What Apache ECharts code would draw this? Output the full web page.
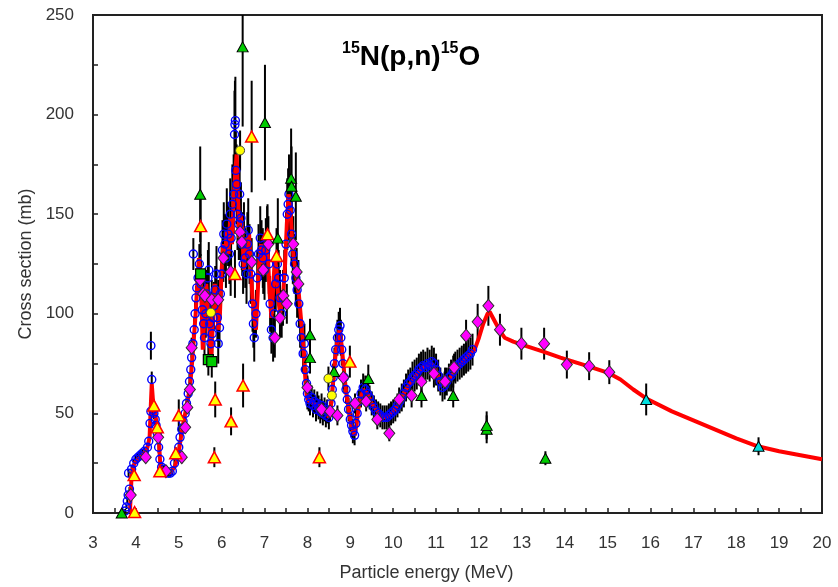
<!DOCTYPE html>
<html><head><meta charset="utf-8">
<script src="https://cdn.jsdelivr.net/npm/echarts@6/dist/echarts.min.js"></script>
<style>html,body{margin:0;padding:0;background:#fff}#c{width:838px;height:587px}</style>
</head><body><div id="c"></div>
<script>
// ---- axis settings ----
const xRange = [3, 20];
const yRange = [0, 250];
const xAxisTitle = 'Particle energy (MeV)';
const yAxisTitle = 'Cross section (mb)';

// ---- evaluation curve (red line) [E, sigma] ----
const evalCurve = [
[3.86,0],[3.88,9],[3.9,19],[3.95,24],[4.0,26],[4.1,28],[4.2,30],[4.27,33],[4.32,38],[4.35,55],[4.37,65],[4.4,56],[4.45,50],[4.5,42],[4.54,35],[4.57,24],[4.6,22],[4.7,21],[4.8,20],[4.9,23],[4.98,28],[5.03,35],[5.08,42],[5.15,50],[5.22,58],[5.27,65],[5.32,78],[5.36,90],[5.4,102],[5.44,118],[5.47,128],[5.5,120],[5.53,105],[5.56,82],[5.6,100],[5.64,115],[5.68,105],[5.72,88],[5.76,78],[5.8,100],[5.84,115],[5.88,108],[5.92,92],[5.96,100],[6.0,122],[6.04,135],[6.08,128],[6.12,142],[6.16,130],[6.2,148],[6.24,135],[6.28,158],[6.32,172],[6.35,180],[6.38,160],[6.41,138],[6.44,150],[6.48,142],[6.52,122],[6.56,138],[6.6,128],[6.64,140],[6.68,122],[6.72,108],[6.76,98],[6.8,92],[6.84,110],[6.88,128],[6.92,135],[6.96,125],[7.0,128],[7.04,136],[7.08,128],[7.12,110],[7.16,98],[7.2,112],[7.24,128],[7.28,122],[7.32,108],[7.36,100],[7.4,105],[7.44,112],[7.48,125],[7.52,145],[7.56,160],[7.6,155],[7.64,138],[7.68,128],[7.72,122],[7.76,115],[7.8,110],[7.84,100],[7.88,90],[7.92,80],[7.95,68],[7.98,60],[8.02,56],
[8.05,55],[8.1,57],[8.15,55],[8.2,53],[8.25,55],[8.3,52],[8.35,53],[8.4,50],[8.45,51],[8.5,48],[8.55,54],[8.6,66],[8.65,78],[8.7,87],[8.75,92],[8.8,84],[8.85,72],[8.9,61],[8.95,54],[9.0,47],[9.05,42],[9.1,39],[9.15,45],[9.2,54],[9.3,62],[9.4,60],[9.5,55],[9.6,52],[9.7,49],[9.8,48],[9.9,49],[10.0,51],[10.1,54],[10.2,58],[10.3,62],[10.4,65],[10.5,68],[10.6,71],[10.7,73],[10.8,74],[10.9,75],[11.0,71],[11.1,66],[11.2,64],[11.3,67],[11.4,70],[11.5,73],[11.6,75],[11.7,78],[11.8,80],[11.9,82],[12.0,88],[12.1,95],[12.2,100],[12.25,101],[12.3,99],[12.4,95],[12.5,91],[12.6,88],[12.8,86],[13.0,84.5],[13.5,81],[13.9,78],[14.5,74],[15.0,70.5],[15.3,67],[15.6,62],[15.9,57.5],[16.5,51],[17.0,46.5],[17.5,42],[18.0,37.5],[18.5,33.5],[19.0,31],[19.5,29],[20.0,27]
];

// ---- measured data sets [E, sigma, error] ----
const blueCircles = [
[3.75,1,1],[3.78,3,1],[3.8,6,1],[3.82,9,1],[3.85,12,1],[3.83,20,2],[3.9,22,2],[3.95,25,2],[4.0,27,2],[4.05,28,2],[4.1,29,2],[4.15,30,2],[4.2,31,2],[4.27,33,2],[4.3,36,2],[4.33,45,3],[4.35,51,3],[4.37,67,4],[4.35,84,7],[4.4,52,3],[4.42,50,3],[4.45,47,3],[4.47,44,3],[4.5,40,3],[4.53,33,3],[4.56,27,2],[4.6,23,2],[4.65,22,2],[4.7,21,2],[4.75,20,2],[4.8,20,2],[4.85,21,2],[4.9,25,2],[4.95,29,2],[5.0,33,3],[5.03,38,3],[5.07,42,3],[5.1,46,3],[5.15,50,3],[5.18,55,3],[5.22,60,4],[5.25,66,4],[5.28,72,4],[5.3,78,5],[5.33,85,5],[5.36,92,6],[5.38,100,6],[5.4,108,6],[5.42,113,7],[5.45,118,7],[5.34,130,8],
[5.48,125,10],[5.52,115,12],[5.55,102,12],[5.58,95,10],[5.6,88,10],[5.63,100,12],[5.65,110,12],[5.68,118,14],[5.7,122,14],[5.72,95,12],[5.75,85,10],[5.78,90,10],[5.8,98,10],[5.82,104,12],[5.85,112,12],[5.88,120,14],[5.9,98,12],[5.92,85,10],[5.95,93,10],[5.97,110,12],[6.0,120,14],[6.02,132,15],[6.05,140,16],[6.08,135,15],[6.1,128,15],[6.12,145,18],[6.15,140,16],[6.18,130,15],[6.2,150,18],[6.22,138,16],[6.25,155,20],[6.28,160,20],[6.3,190,22],[6.31,195,22],[6.32,197,22],[6.33,172,20],[6.35,165,20],[6.37,150,18],[6.4,145,18],[6.42,160,20],[6.45,148,18],[6.48,135,16],[6.5,125,15],[6.52,140,16],[6.55,128,15],[6.58,120,15],[6.6,135,16],[6.62,142,16],[6.65,130,15],[6.68,120,15],[6.72,105,14],[6.74,95,12],[6.76,88,12],[6.8,100,12],[6.83,118,14],[6.86,130,15],[6.9,138,16],[6.93,132,15],[6.96,128,15],[7.0,122,15],[7.03,132,16],[7.06,138,16],[7.1,125,15],[7.13,105,14],[7.16,92,12],[7.2,88,12],[7.23,100,12],[7.26,115,14],[7.3,125,15],[7.33,118,14],[7.36,108,14],[7.4,100,12],[7.43,108,14],[7.46,118,14],[7.5,135,16],[7.53,150,18],[7.55,155,18],[7.57,160,20],[7.6,152,18],[7.63,140,16],[7.66,130,15],[7.7,125,15],[7.73,118,14],[7.76,112,14],[7.8,105,12],[7.83,95,12],[7.86,88,10],[7.9,80,10],[7.93,85,10],[7.95,72,8],[7.98,65,8],[8.0,60,8],
[8.03,57,6],[8.06,55,6],[8.1,58,6],[8.13,54,6],[8.16,56,6],[8.2,52,6],[8.23,55,6],[8.26,53,6],[8.3,51,6],[8.33,54,6],[8.36,50,6],[8.4,52,6],[8.43,49,6],[8.46,51,6],[8.5,48,6],[8.55,55,6],[8.58,62,7],[8.6,68,7],[8.63,75,8],[8.66,82,8],[8.7,88,9],[8.73,92,9],[8.76,94,9],[8.78,88,9],[8.8,82,8],[8.83,75,8],[8.86,68,8],[8.9,62,7],[8.93,57,7],[8.96,52,6],[9.0,47,6],[9.03,44,6],[9.06,41,6],[9.1,39,5],[9.13,45,6],[9.16,50,6],[9.2,56,6],[9.25,60,7],[9.3,63,7],[9.35,62,7],[9.4,60,7],[9.45,58,6],[9.5,55,6],[9.55,53,6],[9.6,51,6],[9.65,50,6],[9.7,49,6],[9.75,48,6],[9.8,48,6],[9.85,48,6],[9.9,49,6],[9.95,50,6],[10.0,51,6],[10.05,52,6],[10.1,54,6],[10.15,56,6],[10.2,58,7],[10.25,60,7],[10.3,63,7],[10.35,65,7],[10.4,66,7],[10.45,68,8],[10.5,69,8],[10.55,70,8],[10.6,72,8],[10.65,73,8],[10.7,74,8],[10.75,73,8],[10.8,75,8],[10.85,74,8],[10.9,76,8],[10.95,75,8],[11.0,72,8],[11.05,69,8],[11.1,66,7],[11.15,63,7],[11.2,64,7],[11.25,66,7],[11.3,68,7],[11.35,69,8],[11.4,71,8],[11.45,73,8],[11.5,74,8],[11.55,75,8],[11.6,76,8],[11.65,77,8],[11.7,78,8],[11.75,79,8],[11.8,80,8],[11.85,82,8]
];
const magentaDiamonds = [
[3.88,9,2],[4.23,28,2],[4.52,38,3],[4.7,21,2],[5.07,28,3],[5.15,43,3],[5.2,53,3],[5.26,62,4],[5.3,83,5],[5.5,117,8],[5.57,110,10],[5.61,109,10],[5.77,107,10],[5.92,107,10],[6.04,128,12],[6.21,121,12],[6.43,141,14],[6.47,136,14],[6.7,126,12],[6.97,122,12],[7.09,135,14],[7.24,88,10],[7.36,98,10],[7.44,109,10],[7.52,105,10],[7.67,135,14],[7.75,121,12],[7.79,115,12],[8.0,63,6],[8.33,52,5],[8.53,51,5],[8.7,49,5],[8.84,68,6],[9.11,55,5],[9.37,56,5],[9.63,47,5],[9.91,40,4],[10.14,57,6],[10.43,59,6],[10.66,66,6],[10.95,70,7],[11.21,66,7],[11.42,73,7],[11.7,89,8],[11.97,96,9],[12.22,104,10],[12.49,92,8],[12.99,85,8],[13.52,85,8],[14.05,74.5,7],[14.57,73.7,7],[15.04,70.7,6]
];
const orangeTriangles = [
[3.96,19,2],[3.97,0.5,1],[4.42,54,3],[4.5,43,3],[4.56,21,2],[4.93,30,3],[5.0,49,8],[5.51,144,15],[5.83,28,5],[5.85,57,9],[6.22,46,7],[6.31,120,12],[6.5,64,11],[6.7,189,28],[7.07,140,15],[7.28,129,14],[8.28,28,5],[8.99,76,8]
];
const greenTriangles = [
[3.67,0,0],[5.5,160,24],[6.49,234,40],[7.01,196,29],[7.31,138,20],[7.62,168,25],[7.63,164,20],[7.73,159,22],[8.06,89.5,8],[8.06,78,8],[8.62,71,7],[9.42,67.5,7],[10.66,59,6],[11.4,59,6],[12.18,42,7],[12.18,44,7],[13.55,27.5,3.5]
];
const cyanTriangles = [[15.9,57,8],[18.52,33.5,4.5]];
const yellowCircles = [[5.75,100.6,8],[6.43,182,10],[8.49,67.5,6],[8.57,59,6]];
const greenSquares = [[5.51,120,10],[5.69,77,8],[5.77,76,8]];

const FONT = '"Liberation Sans", Arial, sans-serif';

function errSeries(data) {
  return {
    type: 'custom', data: data, z: 1, clip: true, silent: true,
    encode: { x: 0, y: 1 },
    renderItem: function (params, api) {
      const x = api.value(0), y = api.value(1), e = api.value(2);
      const p1 = api.coord([x, y + e]);
      const p2 = api.coord([x, y - e]);
      return { type: 'line', shape: { x1: p1[0], y1: p1[1], x2: p2[0], y2: p2[1] },
        style: { stroke: '#000', lineWidth: 2 } };
    }
  };
}
function markSeries(data, symbol, size, fill, border, bw, z) {
  return {
    type: 'scatter', data: data, symbol: symbol, symbolSize: size, z: z,
    encode: { x: 0, y: 1 }, silent: true,
    itemStyle: { color: fill, borderColor: border, borderWidth: bw, opacity: 1 }
  };
}

const chart = echarts.init(document.getElementById('c'), null, { renderer: 'canvas' });
chart.setOption({
  animation: false,
  backgroundColor: '#fff',
  title: {
    text: '{s|15}{m|N(p,n)}{s|15}{m|O}',
    left: 337, top: 36,
    textStyle: {
      rich: {
        m: { fontSize: 28, fontWeight: 'bold', fontFamily: FONT, color: '#000', lineHeight: 32 },
        s: { fontSize: 16, fontWeight: 'bold', fontFamily: FONT, color: '#000', lineHeight: 16, verticalAlign: 'top' }
      }
    }
  },
  grid: { left: 93, right: 16, top: 15, bottom: 70, show: true, borderColor: '#222', borderWidth: 2, backgroundColor: 'transparent' },
  xAxis: {
    type: 'value', min: xRange[0], max: xRange[1], interval: 1,
    name: xAxisTitle, nameLocation: 'middle', nameGap: 51,
    nameTextStyle: { fontFamily: FONT, fontSize: 18, color: '#333', padding: [0, 62, 0, 0] },
    axisLine: { show: true, onZero: false, lineStyle: { color: '#222', width: 2 } },
    axisTick: { show: true, inside: true, length: 5, lineStyle: { color: '#222', width: 1.5 } },
    minorTick: { show: true, splitNumber: 2, length: 5, lineStyle: { color: '#222', width: 1.5 } },
    axisLabel: { fontFamily: FONT, fontSize: 17, color: '#333', margin: 22 },
    splitLine: { show: false }
  },
  yAxis: {
    type: 'value', min: yRange[0], max: yRange[1], interval: 50,
    name: yAxisTitle, nameLocation: 'middle', nameGap: 56, nameRotate: 90,
    nameTextStyle: { fontFamily: FONT, fontSize: 18, color: '#333' },
    axisLine: { show: true, onZero: false, lineStyle: { color: '#222', width: 2 } },
    axisTick: { show: true, inside: true, length: 5, lineStyle: { color: '#222', width: 1.5 } },
    minorTick: { show: true, splitNumber: 2, length: 5, lineStyle: { color: '#222', width: 1.5 } },
    axisLabel: { fontFamily: FONT, fontSize: 17, color: '#333', margin: 19 },
    splitLine: { show: false }
  },
  series: [
    errSeries(blueCircles), errSeries(magentaDiamonds), errSeries(orangeTriangles),
    errSeries(greenTriangles), errSeries(cyanTriangles), errSeries(yellowCircles), errSeries(greenSquares),
    { type: 'line', data: evalCurve, showSymbol: false, z: 2, silent: true,
      lineStyle: { color: '#ff0000', width: 4 } },
    markSeries(blueCircles, 'circle', 8, 'rgba(0,0,0,0)', '#0000ff', 1.4, 3),
    markSeries(magentaDiamonds, 'diamond', [11, 13], '#ff00ff', '#303030', 1, 4),
    markSeries(orangeTriangles, 'triangle', [12, 11], '#ffff00', '#ff0000', 1.5, 5),
    markSeries(greenTriangles, 'triangle', [11, 10], '#00cc00', '#000', 1, 5),
    markSeries(cyanTriangles, 'triangle', [11, 10], '#00e0e0', '#000', 1, 5),
    markSeries(yellowCircles, 'circle', 9, '#ffff00', '#444', 1, 5),
    markSeries(greenSquares, 'rect', 10, '#00cc00', '#000', 1.2, 5)
  ]
});
</script>
</body></html>
